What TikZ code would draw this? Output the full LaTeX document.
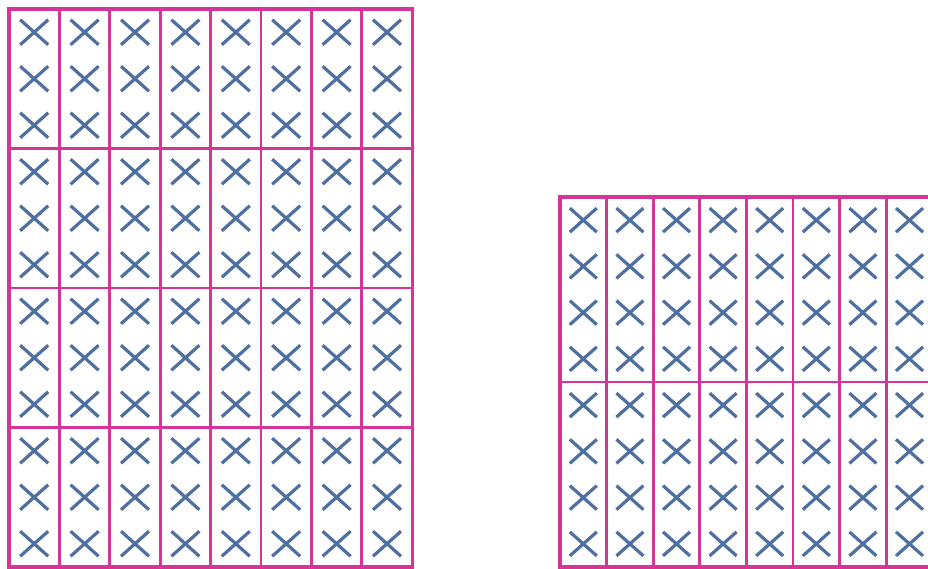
\documentclass[tikz,border=0pt]{standalone}
\definecolor{gridpink}{RGB}{214,52,150}
\definecolor{crossblue}{RGB}{78,112,160}
\begin{document}
\begin{tikzpicture}[x=1pt,y=-1pt,
  gridline/.style={draw=gridpink,line width=2.8pt},
  gridframe/.style={draw=gridpink,line width=3.4pt},
  crossline/.style={draw=crossblue,line width=3.2pt}]
\useasboundingbox (0,0) rectangle (928,568);
\clip (0,0) rectangle (928,568);
\fill[white] (0,0) rectangle (928,568);
% ---------- left grid: 8 columns x 4 rows, 3 crosses per cell
\foreach \c in {0,...,7}{
  \foreach \r in {0,...,3}{
    \foreach \k in {0,1,2}{
      \pgfmathsetmacro\cx{9+50.4*(\c+0.5)}
      \pgfmathsetmacro\cy{9+139.5*\r+46.5*(\k+0.5)}
      \draw[crossline] (\cx-14,\cy-12.5) -- (\cx+14,\cy+12.5)
                       (\cx-14,\cy+12.5) -- (\cx+14,\cy-12.5);
    }}}
\foreach \c in {1,...,7}{
  \pgfmathsetmacro\gx{9+50.4*\c}
  \draw[gridline] (\gx,9) -- (\gx,567);
}
\foreach \r in {1,2,3}{
  \pgfmathsetmacro\gy{9+139.5*\r}
  \draw[gridline] (9,\gy) -- (412.2,\gy);
}
\draw[gridframe] (9,9) rectangle (412.2,567);
% ---------- right grid: 8 columns x 2 rows, 4 crosses per cell
\foreach \c in {0,...,7}{
  \foreach \r in {0,1}{
    \foreach \k in {0,...,3}{
      \pgfmathsetmacro\cx{560+46.6*(\c+0.5)}
      \pgfmathsetmacro\cy{197+185*\r+46.25*(\k+0.5)}
      \draw[crossline] (\cx-13.5,\cy-12) -- (\cx+13.5,\cy+12)
                       (\cx-13.5,\cy+12) -- (\cx+13.5,\cy-12);
    }}}
\foreach \c in {1,...,7}{
  \pgfmathsetmacro\gx{560+46.6*\c}
  \draw[gridline] (\gx,197) -- (\gx,567);
}
\draw[gridline] (560,382) -- (932.8,382);
\draw[gridframe] (560,197) rectangle (932.8,567);
\end{tikzpicture}
\end{document}
